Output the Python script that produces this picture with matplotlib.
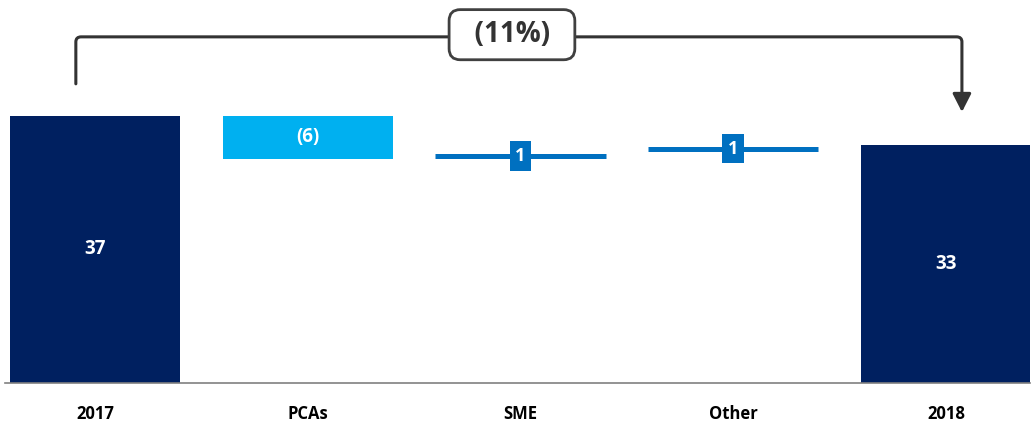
import matplotlib.pyplot as plt
from matplotlib.path import Path
from matplotlib.patches import FancyArrowPatch

plt.rcParams['font.family'] = ['Open Sans', 'DejaVu Sans']
plt.rcParams['font.weight'] = 'bold'

# data
categories = ['2017', 'PCAs', 'SME', 'Other', '2018']
start_value = 37
changes = [-6, 0.9, 1.1]
end_value = 33
change_label = '(11%)'

navy = '#002060'
light_blue = '#00B0F0'
mid_blue = '#0070C0'
dark_grey = '#404040'

fig = plt.figure(figsize=(10.35, 4.24), dpi=100)
ax = fig.add_axes([5 / 1035, 41 / 424, 1025 / 1035, 383 / 424])
width = 0.8

# start bar
ax.bar(0, start_value, width, color=navy)
ax.text(0, start_value / 2, f'{start_value}', ha='center', va='center',
        color='white', fontsize=13.5, fontweight='bold')

# steps
level = start_value
for i, ch in enumerate(changes, start=1):
    if ch < 0:
        ax.bar(i, ch, width, bottom=level, color=light_blue)
        ax.text(i, level + ch / 2, f'({abs(round(ch))})', ha='center', va='center',
                color='white', fontsize=13.5, fontweight='bold')
    else:
        mid_y = level + ch / 2
        ax.plot([i - width / 2, i + width / 2], [mid_y, mid_y], color=mid_blue,
                lw=3.6, solid_capstyle='butt')
        ax.text(i, mid_y, f'{round(ch)}', ha='center', va='center',
                color='white', fontsize=13, fontweight='bold',
                bbox=dict(boxstyle='square,pad=0.32', fc=mid_blue, ec='none'))
    level += ch

# end bar
end_x = len(categories) - 1
ax.bar(end_x, end_value, width, color=navy)
ax.text(end_x, end_value / 2, f'{end_value}', ha='center', va='center',
        color='white', fontsize=13.5, fontweight='bold')

# bracket with arrow
x0, x1 = -0.09, end_x + 0.075
y_top, y_left, y_tip = 47.9, 41.4, 37.5
rx, ry = 0.025, 0.7
verts = [(x0, y_left), (x0, y_top - ry), (x0, y_top), (x0 + rx, y_top),
         (x1 - rx, y_top), (x1, y_top), (x1, y_top - ry), (x1, y_tip)]
codes = [Path.MOVETO, Path.LINETO, Path.CURVE3, Path.CURVE3,
         Path.LINETO, Path.CURVE3, Path.CURVE3, Path.LINETO]
arrow = FancyArrowPatch(path=Path(verts, codes),
                        arrowstyle='-|>,head_length=0.55,head_width=0.28',
                        mutation_scale=20, color='#333333', lw=2.2)
ax.add_patch(arrow)
ax.text(1.96, y_top + 0.3, '  ' + change_label + '  ', ha='center', va='center',
        fontsize=20, fontweight='bold', color='#333333',
        bbox=dict(boxstyle='round,pad=0.38,rounding_size=0.4', fc='white',
                  ec=dark_grey, lw=2))

ax.set_xlim(-0.423, 4.395)
ax.set_ylim(0, 53)
ax.set_xticks(range(len(categories)), categories)
ax.tick_params(axis='x', length=0, pad=16, labelsize=12)
ax.set_yticks([])
for s in ['top', 'left', 'right']:
    ax.spines[s].set_visible(False)
ax.spines['bottom'].set_color('#808080')
ax.spines['bottom'].set_linewidth(1.2)

fig.savefig('out.png', dpi=100)
